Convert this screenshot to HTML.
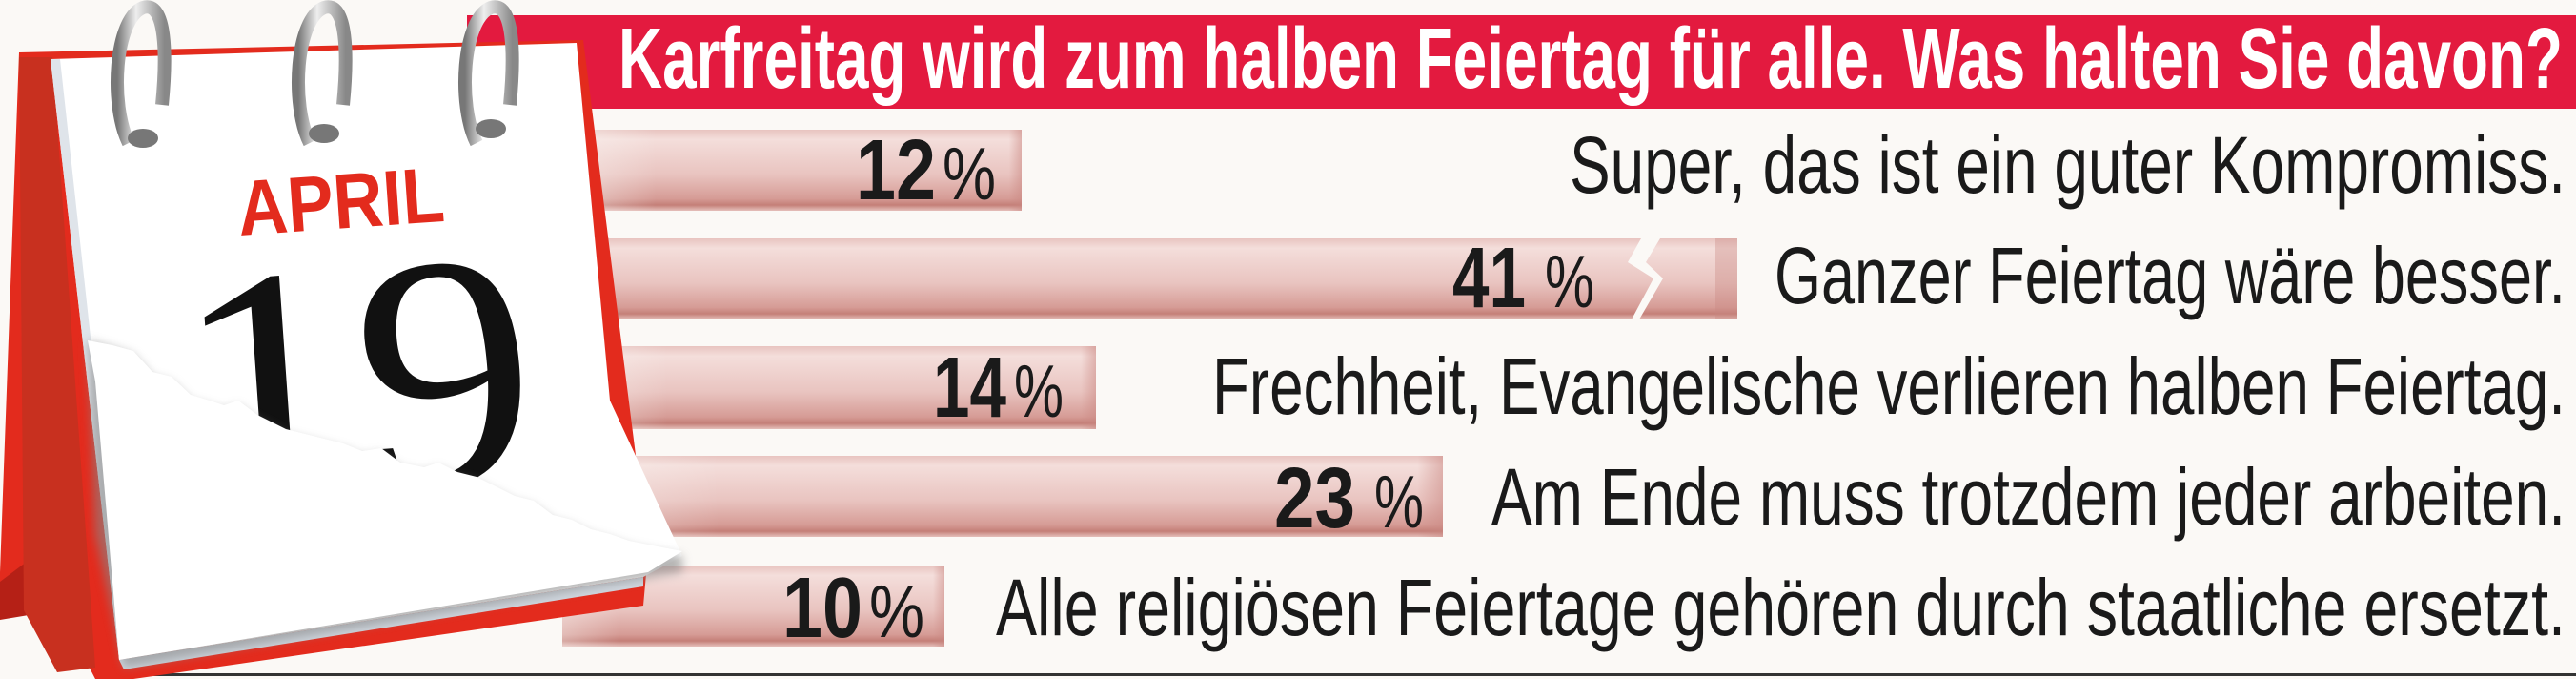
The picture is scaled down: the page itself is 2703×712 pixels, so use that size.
<!DOCTYPE html>
<html><head><meta charset="utf-8"><style>
html,body{margin:0;padding:0;background:#fbf9f6;}
svg{display:block}
</style></head><body>
<svg width="2703" height="712" viewBox="0 0 2703 712" xmlns="http://www.w3.org/2000/svg">
<defs>
<linearGradient id="bar" x1="0" y1="0" x2="0" y2="1">
<stop offset="0" stop-color="#e8c4c0"/>
<stop offset="0.12" stop-color="#f4dedb"/>
<stop offset="0.55" stop-color="#e9c4c0"/>
<stop offset="0.85" stop-color="#d69c96"/>
<stop offset="0.93" stop-color="#c47f78"/>
<stop offset="1" stop-color="#e5c0bb"/>
</linearGradient>
<linearGradient id="barEnd" x1="0" y1="0" x2="1" y2="0">
<stop offset="0" stop-color="#fbf9f6" stop-opacity="0.35"/>
<stop offset="0.15" stop-color="#fbf9f6" stop-opacity="0"/>
<stop offset="0.97" stop-color="#c98680" stop-opacity="0"/>
<stop offset="1" stop-color="#c98680" stop-opacity="0.5"/>
</linearGradient>
<linearGradient id="ring" x1="0" y1="0" x2="1" y2="0">
<stop offset="0" stop-color="#777"/><stop offset="0.4" stop-color="#eee"/><stop offset="1" stop-color="#888"/>
</linearGradient>
<filter id="sh" x="-10%" y="-10%" width="120%" height="130%"><feGaussianBlur stdDeviation="5"/></filter>
</defs>
<rect width="2703" height="712" fill="#fbf9f6"/>
<rect x="490" y="16" width="2213" height="98" fill="#e31a3f"/>
<text x="649" y="92" fill="#fff" font-family="Liberation Sans, sans-serif" font-weight="bold" font-size="90" textLength="2040" lengthAdjust="spacingAndGlyphs">Karfreitag wird zum halben Feiertag für alle. Was halten Sie davon?</text>

<g>
<rect x="621" y="136" width="451" height="85" fill="url(#bar)"/>
<rect x="621" y="136" width="451" height="85" fill="url(#barEnd)"/>
<path d="M621 250 H1722 L1708 275 L1735 292 L1712 335 H621 Z" fill="url(#bar)"/>
<path d="M1742 250 H1823 V335 H1720 L1745 292 L1727 275 Z" fill="url(#bar)"/>
<rect x="1800" y="250" width="23" height="85" fill="#c98680" opacity="0.35"/>
<rect x="621" y="363" width="529" height="87" fill="url(#bar)"/>
<rect x="621" y="363" width="529" height="87" fill="url(#barEnd)"/>
<rect x="621" y="478" width="893" height="85" fill="url(#bar)"/>
<rect x="621" y="478" width="893" height="85" fill="url(#barEnd)"/>
<rect x="590" y="593" width="401" height="85" fill="url(#bar)"/>
<rect x="590" y="593" width="401" height="85" fill="url(#barEnd)"/>
</g>

<g font-family="Liberation Sans, sans-serif" fill="#1a1a1a">
<text x="898" y="209" font-weight="bold" font-size="90" textLength="84" lengthAdjust="spacingAndGlyphs">12</text>
<text x="989" y="209" font-size="78" textLength="56" lengthAdjust="spacingAndGlyphs">%</text>
<text x="1524" y="322" font-weight="bold" font-size="90" textLength="77" lengthAdjust="spacingAndGlyphs">41</text>
<text x="1621" y="322" font-size="78" textLength="52" lengthAdjust="spacingAndGlyphs">%</text>
<text x="979" y="437" font-weight="bold" font-size="90" textLength="77" lengthAdjust="spacingAndGlyphs">14</text>
<text x="1064" y="437" font-size="78" textLength="52" lengthAdjust="spacingAndGlyphs">%</text>
<text x="1337" y="553" font-weight="bold" font-size="90" textLength="85" lengthAdjust="spacingAndGlyphs">23</text>
<text x="1442" y="553" font-size="78" textLength="52" lengthAdjust="spacingAndGlyphs">%</text>
<text x="821" y="668" font-weight="bold" font-size="90" textLength="84" lengthAdjust="spacingAndGlyphs">10</text>
<text x="912" y="668" font-size="78" textLength="58" lengthAdjust="spacingAndGlyphs">%</text>
</g>

<g font-family="Liberation Sans, sans-serif" fill="#1a1a1a" font-size="84">
<text x="1647" y="202" textLength="1045" lengthAdjust="spacingAndGlyphs">Super, das ist ein guter Kompromiss.</text>
<text x="1862" y="318" textLength="830" lengthAdjust="spacingAndGlyphs">Ganzer Feiertag wäre besser.</text>
<text x="1272" y="434" textLength="1420" lengthAdjust="spacingAndGlyphs">Frechheit, Evangelische verlieren halben Feiertag.</text>
<text x="1565" y="550" textLength="1127" lengthAdjust="spacingAndGlyphs">Am Ende muss trotzdem jeder arbeiten.</text>
<text x="1045" y="666" textLength="1647" lengthAdjust="spacingAndGlyphs">Alle religiösen Feiertage gehören durch staatliche ersetzt.</text>
</g>

<rect x="120" y="706" width="2583" height="3" fill="#333"/>

<g>
<path d="M0 600 L20 55 L612 42 L680 580 L675 635 L140 712 L100 712 L45 605 L10 640 L0 640 Z" fill="#e32b1d"/>
<path d="M0 610 L40 580 L60 640 L0 650 Z" fill="#b52016"/>
<path d="M20 60 L55 60 L100 700 L60 705 L25 640 Z" fill="#c8301f"/>
<path d="M53 62 L605 45 L640 420 L716 583 L675 605 L125 692 Z" fill="#ffffff"/>
<path d="M125 692 L675 605 L675 615 L130 702 Z" fill="#cfd6de"/>
<path d="M53 62 L63 62 L132 690 L125 692 Z" fill="#dfe4ea"/>
<text x="249" y="240" transform="rotate(-4 350 210)" fill="#e32b1d" font-family="Liberation Sans, sans-serif" font-weight="bold" font-size="82" textLength="217" lengthAdjust="spacingAndGlyphs">APRIL</text>
<text x="186" y="515" transform="rotate(-4 370 400)" fill="#111" font-family="Liberation Serif, serif" font-size="350" textLength="375" lengthAdjust="spacingAndGlyphs">19</text>
<path d="M92 357 L120 365 L140 372 L160 395 L180 400 L200 420 L220 425 L235 430 L250 425 L270 440 L300 455 L320 460 L340 465 L360 470 L380 478 L400 475 L420 490 L445 495 L460 490 L480 500 L500 505 L520 515 L540 525 L560 530 L580 545 L600 550 L620 560 L640 565 L660 572 L690 578 L716 583 L716 600 L130 700 L100 560 Z" fill="#888" opacity="0.6" filter="url(#sh)"/>
<path d="M92 357 L118 362 L140 368 L160 390 L180 395 L200 414 L220 420 L235 425 L250 420 L270 435 L300 450 L320 455 L340 460 L360 465 L380 473 L400 470 L420 485 L445 490 L460 485 L480 495 L500 500 L520 510 L540 520 L560 525 L580 540 L600 545 L620 555 L640 560 L660 567 L690 573 L716 578 L680 600 L125 692 L100 400 Z" fill="#ffffff"/>
<g fill="none" stroke="url(#ring)" stroke-width="14">
<path d="M135 150 C115 110 120 20 150 8 C175 0 175 60 170 110"/>
<path d="M325 150 C305 110 310 20 340 8 C365 0 365 60 360 110"/>
<path d="M500 150 C480 110 485 20 515 8 C540 0 540 60 535 110"/>
</g>
<ellipse cx="150" cy="145" rx="16" ry="10" fill="#777"/>
<ellipse cx="340" cy="140" rx="16" ry="10" fill="#777"/>
<ellipse cx="515" cy="135" rx="16" ry="10" fill="#777"/>
</g>
</svg>
</body></html>
